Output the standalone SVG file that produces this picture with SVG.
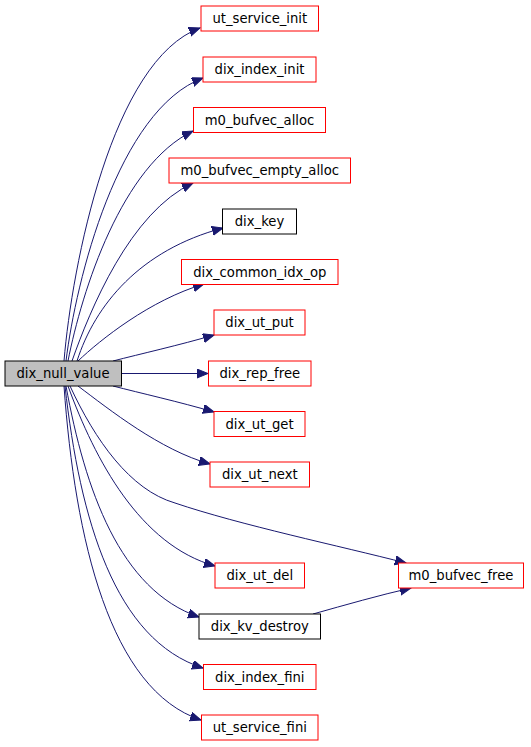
<svg xmlns="http://www.w3.org/2000/svg" width="531" height="747" viewBox="0 0 531 747">
<defs>
<style>
rect{fill:#fff;stroke-width:1}
.r rect{stroke:#ff0000}
.b rect{stroke:#000}
.root rect{fill:#bfbfbf;stroke:#000}
text{font-family:"DejaVu Sans","Liberation Sans",sans-serif;font-size:13.2px;fill:#000;text-anchor:middle}
#edges path{fill:none;stroke:#191970;stroke-width:1;marker-end:url(#ah)}
</style>
<marker id="ah" markerUnits="userSpaceOnUse" markerWidth="12" markerHeight="10" refX="11" refY="4.5" orient="auto" viewBox="0 0 12 10">
<polygon points="0,0 11,4.5 0,9" fill="#191970" stroke="#191970"/>
</marker>
</defs>
<rect x="0" y="0" width="531" height="747" style="fill:#fff;stroke:none"/>
<g id="edges">
<path d="M64,361 C72,265 112,60 200,28"/>
<path d="M66,361 C76,280 118,110 203,78"/>
<path d="M68,361 C82,290 122,165 193,131"/>
<path d="M72,361 C90,310 130,212 193,183"/>
<path d="M77,361 C95,305 140,250 223,228"/>
<path d="M78,361 C100,340 150,300 204,284"/>
<path d="M113,361 C140,354 180,345 214,335"/>
<path d="M121.5,373.5 L208,373.5"/>
<path d="M113,386 C140,393 180,402 214,412"/>
<path d="M78,386 C110,410 160,450 210,464"/>
<path d="M70,386 C95,440 130,490 175,503 C240,525 340,546 406,563"/>
<path d="M68,386 C95,460 140,545 215,566"/>
<path d="M66,386 C85,490 120,590 199,617"/>
<path d="M65,386 C80,520 115,640 203,668"/>
<path d="M64,386 C75,540 110,690 201,720"/>
<path d="M313,614 C345,605 380,595 411,588"/>
</g>
<g id="dix_null_value" class="root"><rect x="5" y="361" width="116.5" height="25"/><text x="63" y="378">dix_null_value</text></g>
<g id="ut_service_init" class="r"><rect x="201" y="6" width="117.5" height="25"/><text x="259.8" y="23">ut_service_init</text></g>
<g id="dix_index_init" class="r"><rect x="203" y="57" width="113" height="25"/><text x="259.5" y="74">dix_index_init</text></g>
<g id="m0_bufvec_alloc" class="r"><rect x="193.5" y="107.5" width="132" height="25"/><text x="259.5" y="124.5">m0_bufvec_alloc</text></g>
<g id="m0_bufvec_empty_alloc" class="r"><rect x="169" y="158" width="181.5" height="25"/><text x="259.8" y="175">m0_bufvec_empty_alloc</text></g>
<g id="dix_key" class="b"><rect x="222.5" y="209" width="74" height="25"/><text x="259.5" y="226">dix_key</text></g>
<g id="dix_common_idx_op" class="r"><rect x="181.5" y="259.5" width="156.5" height="25"/><text x="259.8" y="276.5">dix_common_idx_op</text></g>
<g id="dix_ut_put" class="r"><rect x="214" y="310" width="91" height="25"/><text x="259.5" y="327">dix_ut_put</text></g>
<g id="dix_rep_free" class="r"><rect x="208.5" y="361" width="102.5" height="25"/><text x="259.8" y="378">dix_rep_free</text></g>
<g id="dix_ut_get" class="r"><rect x="214" y="411.5" width="91" height="25"/><text x="259.5" y="428.5">dix_ut_get</text></g>
<g id="dix_ut_next" class="r"><rect x="210" y="462" width="99.5" height="25"/><text x="259.8" y="479">dix_ut_next</text></g>
<g id="dix_ut_del" class="r"><rect x="215" y="563" width="89.5" height="25"/><text x="259.8" y="580">dix_ut_del</text></g>
<g id="dix_kv_destroy" class="b"><rect x="199" y="614" width="121.5" height="25"/><text x="259.8" y="631">dix_kv_destroy</text></g>
<g id="dix_index_fini" class="r"><rect x="203.5" y="664.5" width="112.5" height="25"/><text x="259.8" y="681.5">dix_index_fini</text></g>
<g id="ut_service_fini" class="r"><rect x="201.5" y="715" width="116.5" height="25"/><text x="259.8" y="732">ut_service_fini</text></g>
<g id="m0_bufvec_free" class="r"><rect x="398.5" y="563" width="125" height="25"/><text x="461" y="580">m0_bufvec_free</text></g>
</svg>
